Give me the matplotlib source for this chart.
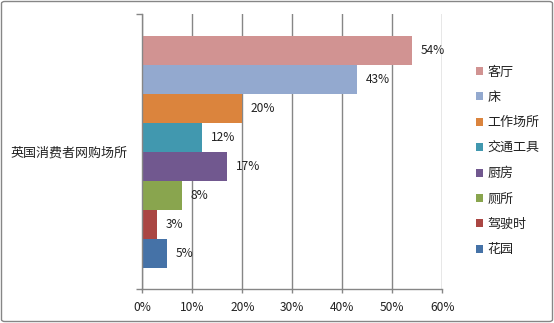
import matplotlib
matplotlib.use("Agg")
import matplotlib.pyplot as plt
from matplotlib.patches import FancyBboxPatch

plt.rcParams['font.family'] = ['Noto Sans CJK SC', 'DejaVu Sans']

category = "英国消费者网购场所"
series_names = ["客厅", "床", "工作场所", "交通工具", "厨房", "厕所", "驾驶时", "花园"]
values = [54, 43, 20, 12, 17, 8, 3, 5]
colors = ["#D19392", "#93A9CF", "#DB843D", "#4198AF", "#71588F", "#89A54E", "#AA4643", "#4572A7"]
x_ticks = [0, 10, 20, 30, 40, 50, 60]
x_tick_labels = ["0%", "10%", "20%", "30%", "40%", "50%", "60%"]

W, H = 554, 323
fig = plt.figure(figsize=(W / 100, H / 100), dpi=100)
fig.patch.set_facecolor("white")

ax = fig.add_axes([142.3 / W, 1 - 289 / H, 300 / W, (289 - 14.3) / H])

grid_c = "#868686"
for i, (name, v, c) in enumerate(zip(series_names, values, colors)):
    ax.barh(i, v, height=1.0, color=c, label=name, zorder=3)
    ax.annotate(f"{v}%", xy=(v, i), xytext=(6, 0), textcoords="offset points",
                ha="left", va="center", fontsize=8.6, color="#222222")

ax.set_xlim(0, 60)
ax.set_ylim(8.24, -1.25)
ax.set_xticks(x_ticks)
ax.set_xticklabels(x_tick_labels, fontsize=8.6)
ax.xaxis.grid(True, color=grid_c, linewidth=1.0, zorder=0)
ax.tick_params(axis="x", length=3, width=1, color=grid_c, pad=5.5, labelcolor="#222222")

ax.set_yticks([-1.25, 8.24])
ax.set_yticklabels(["", ""])
ax.set_yticks([3.5], minor=True)
ax.set_yticklabels([category], minor=True, fontsize=9.4)
ax.tick_params(axis="y", which="major", length=4, width=1, color=grid_c)
ax.tick_params(axis="y", which="minor", length=0, pad=11, labelcolor="#222222")

for s in ["top", "right"]:
    ax.spines[s].set_visible(False)
for s in ["left", "bottom"]:
    ax.spines[s].set_color(grid_c)
    ax.spines[s].set_linewidth(1.0)
    ax.spines[s].set_zorder(4)

leg = ax.legend(loc="center left", bbox_to_anchor=(476 / W, 1 - 161 / H),
                bbox_transform=fig.transFigure, frameon=False, borderpad=0,
                borderaxespad=0, handlelength=0.55, handleheight=0.55,
                handletextpad=0.35, labelspacing=0.95, fontsize=9.4)
for t in leg.get_texts():
    t.set_color("#222222")

border = FancyBboxPatch((1.5 / W, 1.5 / H), (W - 3) / W, (H - 3) / H,
                        boxstyle="round,pad=0,rounding_size=0.006",
                        transform=fig.transFigure, facecolor="none",
                        edgecolor="#868686", linewidth=1.0)
fig.patches.append(border)

fig.savefig("out.png", dpi=100)
